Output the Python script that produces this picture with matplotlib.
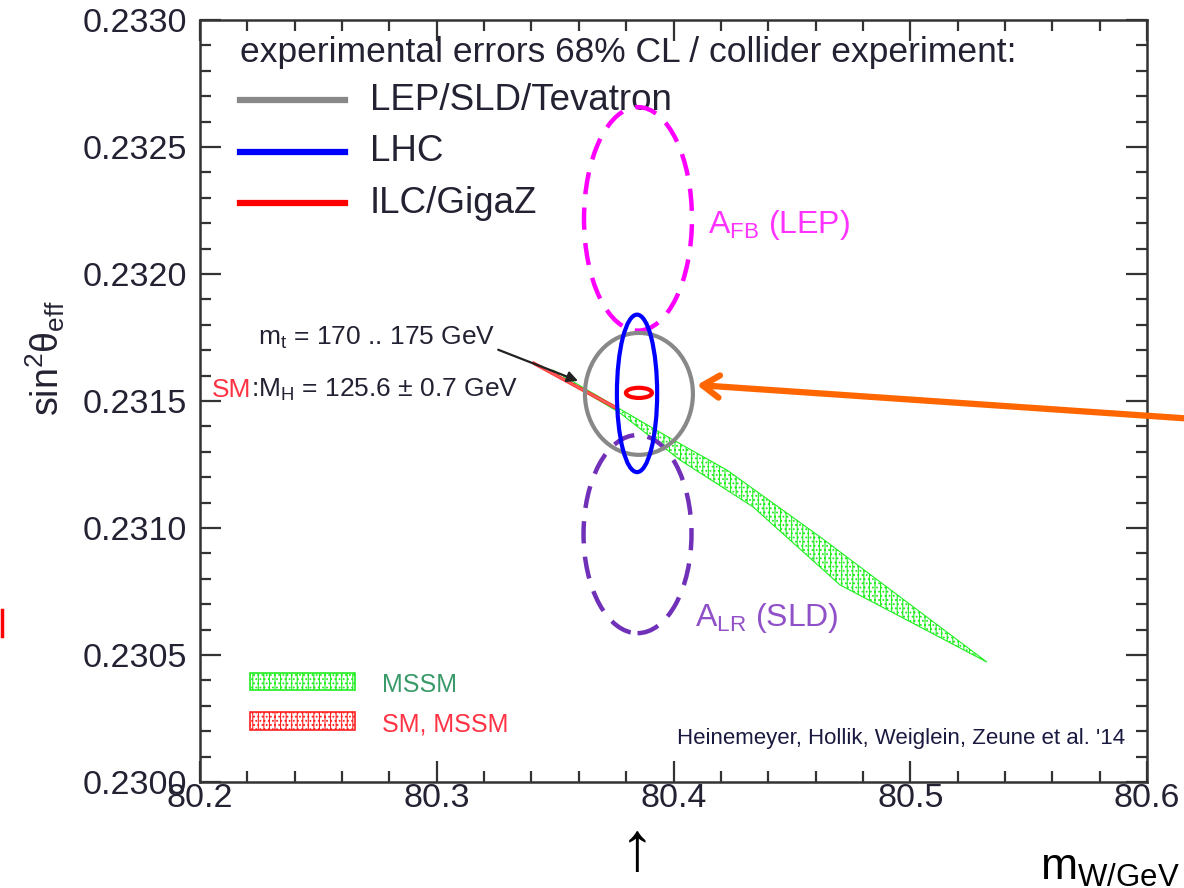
import matplotlib
matplotlib.use("Agg")
import matplotlib.pyplot as plt
from matplotlib.patches import Ellipse, Polygon, Rectangle
from matplotlib.lines import Line2D
from matplotlib.ticker import MultipleLocator

plt.rcParams['font.family'] = ['Liberation Sans', 'DejaVu Sans']
plt.rcParams['mathtext.fontset'] = 'custom'
plt.rcParams['mathtext.rm'] = 'Liberation Sans'
plt.rcParams['mathtext.it'] = 'Liberation Sans'
plt.rcParams['mathtext.bf'] = 'Liberation Sans:bold'
plt.rcParams['hatch.linewidth'] = 0.8

# experimental 68% CL ellipses (centre, half widths)
exp_labels = ['LEP/SLD/Tevatron', 'LHC', 'ILC/GigaZ']
exp_colors = ['#888888', '#0000ff', '#ff0000']
exp_mw = [80.3854, 80.3846, 80.3854]
exp_sw = [0.231528, 0.231530, 0.231532]
exp_dmw = [0.0228, 0.0085, 0.0055]
exp_dsw = [0.00024, 0.00031, 0.00002]

# asymmetry measurements (dashed)
asym_labels = ['A$_{\\rm FB}$ (LEP)', 'A$_{\\rm LR}$ (SLD)']
asym_colors = ['#ff00ff', '#7030b8']
asym_text_colors = ['#ff33ff', '#9050c8']
asym_mw = [80.3850, 80.3848]
asym_sw = [0.232217, 0.230976]
asym_dmw = [0.0228, 0.0228]
asym_dsw = [0.00044, 0.00039]
asym_text_x = [80.4146, 80.4091]
asym_text_y = [0.232193, 0.230646]

# MSSM band edges
mssm_upper_mw = [80.3491, 80.3985, 80.4226, 80.4619, 80.5324]
mssm_upper_sw = [0.231622, 0.231354, 0.231228, 0.230965, 0.230472]
mssm_lower_mw = [80.3491, 80.3774, 80.4027, 80.4336, 80.4703, 80.5324]
mssm_lower_sw = [0.231610, 0.231453, 0.231268, 0.231083, 0.230776, 0.230472]

# SM band edges
sm_upper_mw = [80.3407, 80.3761]
sm_upper_sw = [0.231655, 0.231477]
sm_lower_mw = [80.3407, 80.3761]
sm_lower_sw = [0.231645, 0.231465]

fig = plt.figure(figsize=(11.84, 8.88), dpi=100)
ax = fig.add_axes([200/1184, 1-782/888, 947/1184, 762/888])
ax.set_xlim(80.2, 80.6)
ax.set_ylim(0.2300, 0.2330)

# bands
mssm_pts = list(zip(mssm_upper_mw, mssm_upper_sw)) + list(zip(mssm_lower_mw, mssm_lower_sw))[::-1]
ax.add_patch(Polygon(mssm_pts, closed=True, facecolor='white', edgecolor='#22ee22',
                     hatch='|||....', lw=0.8, zorder=2))
sm_pts = list(zip(sm_upper_mw, sm_upper_sw)) + list(zip(sm_lower_mw, sm_lower_sw))[::-1]
ax.add_patch(Polygon(sm_pts, closed=True, facecolor='#ff6666', edgecolor='#ff3333',
                     lw=0.8, zorder=3))

# dashed asymmetry ellipses
for i in range(2):
    ax.add_patch(Ellipse((asym_mw[i], asym_sw[i]), 2*asym_dmw[i], 2*asym_dsw[i],
                         fill=False, edgecolor=asym_colors[i], lw=3.2,
                         linestyle=(0, (5, 3)), zorder=4))
    ax.text(asym_text_x[i], asym_text_y[i], asym_labels[i], color=asym_text_colors[i],
            fontsize=23, va='center', ha='left')

# experimental ellipses
for i in range(3):
    ax.add_patch(Ellipse((exp_mw[i], exp_sw[i]), 2*exp_dmw[i], 2*exp_dsw[i],
                         fill=False, edgecolor=exp_colors[i], lw=3, zorder=5))

# legend (top)
ax.text(0.042, 0.958, 'experimental errors 68% CL / collider experiment:',
        transform=ax.transAxes, fontsize=25.5, va='center', ha='left', color='#222233')
leg_y = [0.895, 0.8268, 0.7598]
for i in range(3):
    ax.add_line(Line2D([0.042, 0.153], [leg_y[i], leg_y[i]], transform=ax.transAxes,
                       color=exp_colors[i], lw=4.5))
    ax.text(0.1795, leg_y[i], exp_labels[i], transform=ax.transAxes, fontsize=26.5,
            va='center', ha='left', color='#222233')

# legend (bottom)
ax.add_patch(Rectangle((0.0528, 0.1207), 0.111, 0.0223, transform=ax.transAxes,
                       facecolor='white', edgecolor='#22ee22', hatch='|||....', lw=1.2))
ax.add_patch(Rectangle((0.0528, 0.0682), 0.111, 0.0237, transform=ax.transAxes,
                       facecolor='white', edgecolor='#ff2222', hatch='|||....', lw=1.2))
ax.text(0.192, 0.1273, 'MSSM', transform=ax.transAxes, fontsize=18, color='#3a9a6a',
        va='center', ha='left')
ax.text(0.192, 0.0761, 'SM, MSSM', transform=ax.transAxes, fontsize=18, color='#ff3344',
        va='center', ha='left')

# annotations
ax.annotate('m$_{\\rm t}$ = 170 .. 175 GeV', xy=(80.3597, 0.231579), xytext=(80.2245, 0.231748),
            fontsize=19, va='center', ha='left', color='#222233',
            arrowprops=dict(arrowstyle='-|>', color='#222222', lw=1.6,
                            mutation_scale=16, shrinkA=0, shrinkB=0,
                            relpos=(0.97, 0.2)))
t_sm = ax.text(80.2051, 0.231543, 'SM', color='#ff3344', fontsize=19, va='center', ha='left')
ax.annotate(':M$_{\\rm H}$ = 125.6 ± 0.7 GeV', xy=(1.0, 0.5), xycoords=t_sm,
            color='#222233', fontsize=19, va='center', ha='left')
ax.text(80.5907, 0.230173, "Heinemeyer, Hollik, Weiglein, Zeune et al. '14",
        fontsize=16, color='#1a1a40', va='center', ha='right')

# axes styling
ax.xaxis.set_major_locator(MultipleLocator(0.1))
ax.xaxis.set_minor_locator(MultipleLocator(0.02))
ax.yaxis.set_major_locator(MultipleLocator(0.0005))
ax.yaxis.set_minor_locator(MultipleLocator(0.0001))
ax.xaxis.set_major_formatter(plt.FuncFormatter(lambda v, p: '%.1f' % v))
ax.yaxis.set_major_formatter(plt.FuncFormatter(lambda v, p: '%.4f' % v))
ax.tick_params(which='both', direction='in', top=True, right=True, color='#333333',
               width=1.6, labelsize=24.5, labelcolor='#222233')
ax.tick_params(which='major', length=15)
ax.tick_params(which='minor', length=8)
ax.tick_params(axis='y', pad=9)
ax.tick_params(axis='x', pad=1)
for s in ax.spines.values():
    s.set_linewidth(1.8)
    s.set_color('#333333')

# labels outside axes
fig.text(45/1184, 1-358/888, '$\\mathrm{sin}^2\\theta_{\\rm eff}$', rotation=90,
         fontsize=27, ha='center', va='center', color='#222233')
fig.text(1040/1184, 8/888, 'm$_{\\rm W/GeV}$', fontsize=32, ha='left', va='baseline')
fig.text(637/1184, 4/888, '↑', fontsize=50, ha='center', va='bottom')
fig.add_artist(Line2D([1.5/1184, 1.5/1184], [1-610/888, 1-636/888], color='red', lw=2.5,
                      transform=fig.transFigure))

# orange pointer
ax.annotate('', xy=(697, 888-385), xycoords='figure pixels',
            xytext=(1195, 888-419), textcoords='figure pixels',
            arrowprops=dict(arrowstyle='->,head_length=1.2,head_width=0.8', color='#ff6600',
                            lw=4.5, shrinkA=0, shrinkB=0))

fig.savefig('out.png', dpi=100)
